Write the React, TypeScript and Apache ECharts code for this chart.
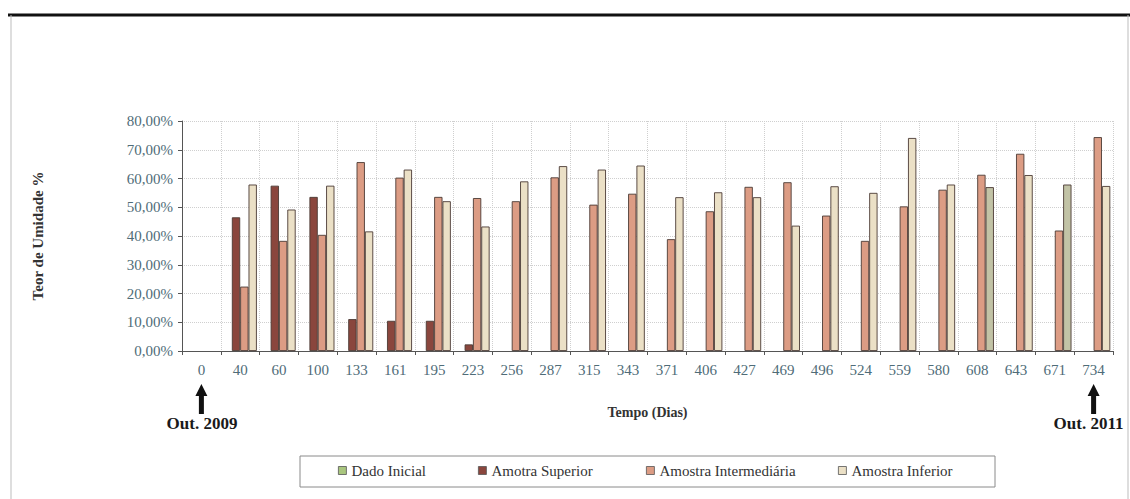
import React, { useEffect, useRef } from "react";
import * as echarts from "echarts";

const categories = ["0", "40", "60", "100", "133", "161", "195", "223", "256", "287", "315", "343", "371", "406", "427", "469", "496", "524", "559", "580", "608", "643", "671", "734"];
const dadoInicial: (number | null)[] = categories.map(() => null);
const amostraSuperior: (number | null)[] = [null, 46.5, 57.5, 53.6, 11.1, 10.5, 10.5, 2.3, null, null, null, null, null, null, null, null, null, null, null, null, null, null, null, null];
const amostraIntermediaria: (number | null)[] = [null, 22.4, 38.3, 40.4, 65.7, 60.3, 53.6, 53.2, 52.1, 60.4, 50.9, 54.7, 38.9, 48.6, 57.1, 58.7, 47.1, 38.3, 50.3, 56.1, 61.3, 68.6, 41.9, 74.4];
const amostraInferior: (number | null)[] = [null, 57.9, 49.2, 57.5, 41.6, 63.1, 52.1, 43.3, 59.0, 64.3, 63.1, 64.5, 53.5, 55.2, 53.5, 43.6, 57.3, 55.0, 74.1, 57.9, 57.0, 61.2, 57.9, 57.4];
const seriesNames = ["Dado Inicial", "Amotra Superior", "Amostra Intermediária", "Amostra Inferior"];
const yTicks = { min: 0, max: 80, interval: 10 };
const greenishIdx = [20, 22];

const SERIF = "Liberation Serif";
const colors = ["#a9c67e", "#8a463d", "#dc9c84", "#ebe0c6"];

export default function App() {
  const ref = useRef<HTMLDivElement>(null);
  useEffect(() => {
    if (!ref.current) return;
    const chart = echarts.init(ref.current, null, { renderer: "svg" });
    const datas = [dadoInicial, amostraSuperior, amostraIntermediaria, amostraInferior];
    const legendLeft = [338, 478, 646, 838];
    const option: any = {
      animation: false,
      backgroundColor: "#ffffff",
      textStyle: { fontFamily: SERIF },
      grid: { left: 182, right: 17, top: 121, bottom: 148, containLabel: false },
      xAxis: {
        type: "category",
        data: categories,
        name: "Tempo (Dias)",
        nameLocation: "middle",
        nameGap: 54,
        nameTextStyle: { fontFamily: SERIF, fontWeight: "bold", fontSize: 14, color: "#333" },
        axisLine: { lineStyle: { color: "#555", width: 1 } },
        axisTick: { show: true, length: 4, lineStyle: { color: "#555" } },
        axisLabel: { fontFamily: SERIF, fontSize: 15, color: "#4f6c78", margin: 11 },
        splitLine: { show: true, lineStyle: { type: "dotted", color: "#cfcfcf" } },
      },
      yAxis: {
        type: "value",
        min: yTicks.min,
        max: yTicks.max,
        interval: yTicks.interval,
        name: "Teor de Umidade %",
        nameLocation: "middle",
        nameGap: 137,
        nameTextStyle: { fontFamily: SERIF, fontWeight: "bold", fontSize: 15, color: "#333" },
        axisLine: { show: true, lineStyle: { color: "#555" } },
        axisTick: { show: true, length: 4, lineStyle: { color: "#555" } },
        axisLabel: {
          fontFamily: SERIF,
          fontSize: 15,
          color: "#4f6c78",
          margin: 9,
          formatter: (v: number) => v.toFixed(2).replace(".", ",") + "%",
        },
        splitLine: { show: true, lineStyle: { type: "dotted", color: "#cfcfcf" } },
      },
      legend: seriesNames.map((n, i) => ({
        data: [n],
        left: legendLeft[i],
        top: 463,
        itemWidth: 8,
        itemHeight: 8,
        icon: "rect",
        padding: 0,
        formatter: "{s|{name}}",
        textStyle: {
          fontFamily: SERIF,
          fontSize: 15,
          color: "#333",
          rich: { s: { fontFamily: SERIF, fontSize: 15, color: "#333" } },
        },
        itemStyle: { borderColor: "#555", borderWidth: 0.8 },
      })),
      series: seriesNames.map((n, i) => ({
        name: n,
        type: "bar",
        barGap: "0%",
        barCategoryGap: "14%",
        itemStyle: { color: colors[i], borderColor: "#4b3a34", borderWidth: 0.9 },
        data: datas[i].map((v, k) =>
          i === 3 && greenishIdx.includes(k) && v != null
            ? { value: v, itemStyle: { color: "#c2c3a6" } }
            : v
        ),
      })),
    };
    chart.setOption(option);
    const x0 = chart.convertToPixel({ xAxisIndex: 0 }, categories[0]) as number;
    const x1 = chart.convertToPixel({ xAxisIndex: 0 }, categories[categories.length - 1]) as number;
    const arrow = (x: number) => ({
      type: "polygon",
      shape: {
        points: [
          [x - 2.5, 414], [x - 2.5, 396], [x - 6, 396], [x, 384], [x + 6, 396], [x + 2.5, 396], [x + 2.5, 414],
        ],
      },
      style: { fill: "#111" },
    });
    chart.setOption({
      graphic: [
        { type: "line", shape: { x1: 8, y1: 15, x2: 1130, y2: 15 }, style: { stroke: "#111", lineWidth: 3 } },
        { type: "line", shape: { x1: 11, y1: 15, x2: 11, y2: 499 }, style: { stroke: "#bdbdbd", lineWidth: 1 } },
        { type: "line", shape: { x1: 1128, y1: 15, x2: 1128, y2: 499 }, style: { stroke: "#bdbdbd", lineWidth: 1 } },
        { type: "rect", shape: { x: 300, y: 456, width: 695, height: 31 }, style: { fill: "none", stroke: "#8a8a8a", lineWidth: 1 }, z: -1 },
        arrow(x0),
        arrow(x1),
        { type: "text", x: x0 + 36, y: 423, style: { text: "Out. 2009", fontFamily: SERIF, fontWeight: "bold", fontSize: 17, fill: "#1a1a1a", align: "right", verticalAlign: "middle" } },
        { type: "text", x: x1 - 40, y: 423, style: { text: "Out. 2011", fontFamily: SERIF, fontWeight: "bold", fontSize: 17, fill: "#1a1a1a", align: "left", verticalAlign: "middle" } },
      ],
    });
    return () => chart.dispose();
  }, []);
  return <div ref={ref} style={{ position: "fixed", left: 0, top: 0, width: 1130, height: 499 }} />;
}
